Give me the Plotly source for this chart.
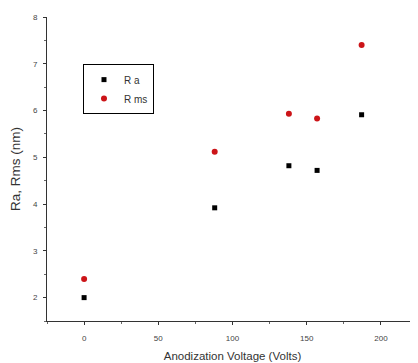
import plotly.graph_objects as go

voltage = [0, 88, 138, 157, 187]
ra = [2.0, 3.92, 4.82, 4.72, 5.91]
rms = [2.4, 5.12, 5.93, 5.83, 7.40]

fig = go.Figure()
fig.add_trace(go.Scatter(x=voltage, y=ra, mode="markers", name="R a",
                         marker=dict(symbol="square", size=5, color="black")))
fig.add_trace(go.Scatter(x=voltage, y=rms, mode="markers", name="R ms",
                         marker=dict(symbol="circle", size=6, color="#cc1418")))

axis_font = dict(family="Arial, Liberation Sans, sans-serif", size=8, color="#444")
# page body has an 8px default margin, so the figure is 8px smaller
fig.update_layout(
    width=410, height=355,
    margin=dict(l=39, r=0, t=9, b=42, autoexpand=False),
    paper_bgcolor="white", plot_bgcolor="white",
    font=dict(family="Arial, Liberation Sans, sans-serif"),
    legend=dict(x=0.097, y=0.845, xanchor="left", yanchor="top",
                bordercolor="black", borderwidth=1, bgcolor="white",
                font=dict(size=10, color="#333"), itemwidth=30,
                tracegroupgap=0),
    xaxis=dict(range=[-25, 225], tickvals=[0, 50, 100, 150, 200], automargin=False,
               showgrid=False, zeroline=False, showline=True, linecolor="#333", linewidth=1,
               ticks="outside", ticklen=3, tickcolor="#333", tickfont=axis_font,
               ticklabelstandoff=6,
               minor=dict(ticks="outside", ticklen=2, dtick=25, tick0=0, tickcolor="#666"),
               title=dict(text="Anodization Voltage (Volts)", standoff=10,
                          font=dict(size=11.5, color="#333"))),
    yaxis=dict(range=[1.5, 8], tickvals=[2, 3, 4, 5, 6, 7, 8], automargin=False,
               showgrid=False, zeroline=False, showline=True, linecolor="#333", linewidth=1,
               ticks="outside", ticklen=3, tickcolor="#333", tickfont=axis_font,
               ticklabelstandoff=4,
               minor=dict(ticks="outside", ticklen=2, dtick=0.5, tick0=0, tickcolor="#666"),
               title=dict(text="Ra, Rms (nm)", standoff=10,
                          font=dict(size=13.5, color="#333"))),
)

fig.write_html("out.html")
